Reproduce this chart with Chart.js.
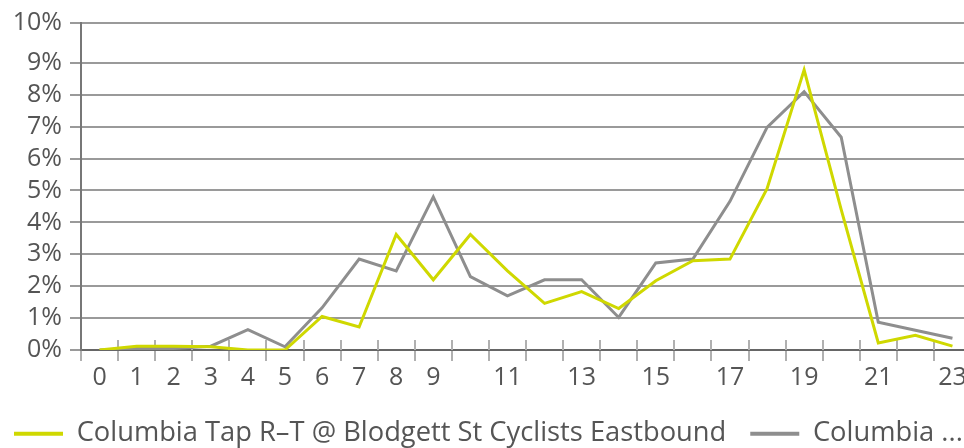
<!DOCTYPE html>
<html>
<head>
<meta charset="utf-8">
<script src="https://cdn.jsdelivr.net/npm/chart.js@4"></script>
<style>
  html, body { margin:0; padding:0; background:#fff; overflow:hidden; }
  #wrap { width:964px; height:448px; overflow:hidden; }
  #chart { margin-left:-10px; display:block; }
</style>
</head>
<body>
<div id="wrap"><canvas id="chart" width="1010" height="448"></canvas></div>
<script>
/* données : part horaire (%) */
const hours = ["0","1","2","3","4","5","6","7","8","9","10","11","12","13","14","15","16","17","18","19","20","21","22","23"];
const shownHours = ["0","1","2","3","4","5","6","7","8","9","11","13","15","17","19","21","23"];
const eastbound = [0.0,0.12,0.12,0.1,0.0,0.0,1.05,0.72,3.62,2.2,3.62,2.48,1.46,1.83,1.3,2.17,2.8,2.85,5.06,8.78,4.4,0.22,0.46,0.12];
const otherDir  = [0.0,0.05,0.05,0.12,0.64,0.1,1.32,2.85,2.48,4.8,2.3,1.7,2.2,2.2,1.02,2.73,2.85,4.66,6.98,8.1,6.67,0.87,0.62,0.37];
const yTickValues = [0,1,2,3,4,5,6,7,8,9,10.25];
const yTickLabels = ["0%","1%","2%","3%","4%","5%","6%","7%","8%","9%","10%"];
const seriesNames = ["Columbia Tap R\u2013T @ Blodgett St Cyclists Eastbound", "Columbia ..."];

const YELLOW = "#cfd800";
const GREY = "#8e8e8e";
const TXT = "#555";

/* petits traits de graduation au-dessus de l'axe X */
const xTickMarks = {
  id: "xTickMarks",
  beforeDatasetsDraw(chart){
    const x = chart.scales.x, c = chart.ctx, b = chart.chartArea.bottom;
    c.save();
    c.strokeStyle = "#b0b0b0"; c.lineWidth = 2;
    for(let i=1;i<=hours.length;i++){
      const px = Math.round(x.getPixelForValue(i-0.5));
      c.beginPath(); c.moveTo(px, b-10); c.lineTo(px, b); c.stroke();
    }
    c.restore();
  }
};

Chart.defaults.font.family = "'Open Sans', Lato, sans-serif";
Chart.defaults.font.size = 25;
Chart.defaults.color = TXT;

new Chart(document.getElementById("chart"), {
  type: "line",
  data: {
    labels: hours,
    datasets: [
      { label: seriesNames[0], data: eastbound, borderColor: YELLOW, backgroundColor: YELLOW, borderWidth: 3, pointRadius: 0, tension: 0 },
      { label: seriesNames[1], data: otherDir, borderColor: GREY, backgroundColor: GREY, borderWidth: 3, pointRadius: 0, tension: 0 }
    ]
  },
  options: {
    responsive: false,
    animation: false,
    layout: { padding: { top: 20, left: 0, right: 0, bottom: 0 } },
    plugins: {
      tooltip: { enabled: false },
      legend: {
        position: "bottom",
        align: "start",
        maxHeight: 52,
        labels: {
          boxWidth: 49, boxHeight: 4, padding: 24, color: TXT,
          font: { size: 27.3 },
          generateLabels: (chart) => Chart.defaults.plugins.legend.labels.generateLabels(chart).map(l => ({ ...l, lineWidth: 0 }))
        }
      }
    },
    scales: {
      x: {
        type: "category",
        offset: true,
        afterFit: (s) => { s.height = 46; },
        grid: { display: true, offset: true, drawOnChartArea: false, drawTicks: true, tickLength: 11, color: "#b0b0b0", lineWidth: 2 },
        border: { display: true, color: "#666", width: 2 },
        ticks: {
          autoSkip: false, maxRotation: 0, padding: 2, color: TXT,
          callback: (v, i) => shownHours.includes(hours[i]) ? hours[i] : ""
        }
      },
      y: {
        min: 0, max: 10.25,
        afterFit: (s) => { s.width = 91; },
        afterBuildTicks: (s) => { s.ticks = yTickValues.map(v => ({ value: v })); },
        grid: { color: "#9a9a9a", lineWidth: 2, tickLength: 11, drawTicks: true },
        border: { display: true, color: "#777", width: 2 },
        ticks: { autoSkip: false, padding: 8, color: TXT, callback: (v, i) => yTickLabels[i] }
      },
      // axe vide à droite : la zone de tracé déborde un peu de la fenêtre comme sur l'original
      yRight: {
        position: "right",
        afterFit: (s) => { s.width = 29; },
        grid: { display: false }, border: { display: false }, ticks: { display: false }
      }
    }
  },
  plugins: [xTickMarks]
});
</script>
</body>
</html>
